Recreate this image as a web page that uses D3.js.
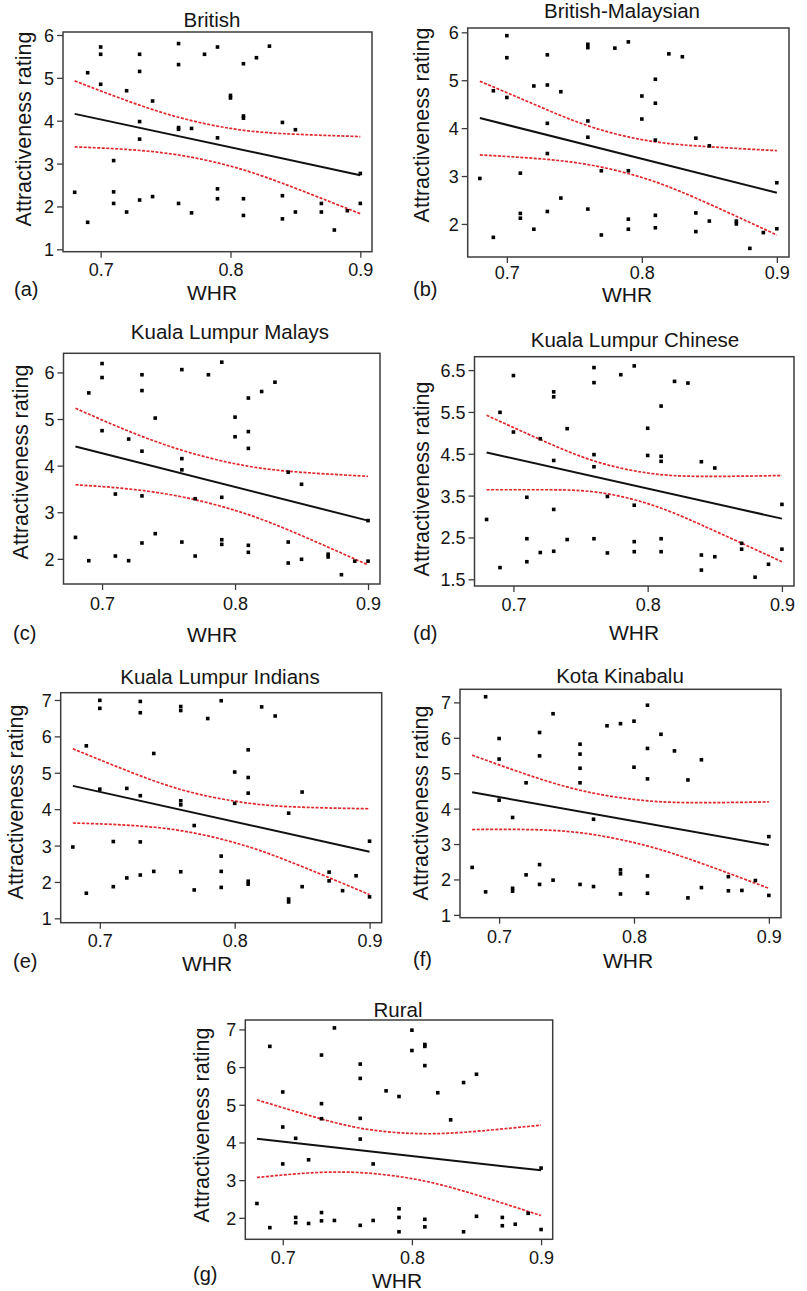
<!DOCTYPE html>
<html>
<head>
<meta charset="utf-8">
<script src="https://cdn.jsdelivr.net/npm/d3@7"></script>
<style>
body { margin: 0; background: #fff; }
svg { display: block; font-family: "Liberation Sans", Arial, Helvetica, sans-serif; }
</style>
</head>
<body>
<div id="chart"></div>
<script>
// Page size
var w = 807;
var h = 1291;

// Shared x values
var xDomain = [0.671, 0.909];
var xTicks = [0.7, 0.8, 0.9];
var fitWHR = [0.68, 0.90];
var bandWHR = [0.68, 0.72, 0.76, 0.80, 0.84, 0.90];

// (a) British
var britishWHR = [0.68,0.69,0.69,0.70,0.70,0.70,0.71,0.71,0.71,0.72,0.72,0.73,0.73,0.73,0.73,0.73,0.74,0.74,0.76,0.76,0.76,0.76,0.76,0.77,0.77,0.78,0.79,0.79,0.79,0.79,0.80,0.80,0.81,0.81,0.81,0.81,0.81,0.82,0.83,0.84,0.84,0.84,0.85,0.85,0.87,0.87,0.88,0.89,0.90,0.90];
var britishRating = [2.33,5.12,1.63,5.72,5.55,4.85,3.07,2.34,2.07,4.70,1.87,5.55,5.15,3.98,3.57,2.15,4.46,2.23,5.80,5.31,3.84,3.80,2.07,3.82,1.85,5.55,5.72,3.60,2.41,2.18,4.59,4.53,5.33,4.11,4.06,2.18,1.79,5.47,5.74,3.96,2.25,1.71,3.79,1.87,2.07,1.87,1.45,1.90,2.77,2.07];
var britishFit = [4.16, 2.73];
var britishUpper = [4.93, 4.47, 4.08, 3.82, 3.70, 3.63];
var britishLower = [3.39, 3.33, 3.20, 2.94, 2.54, 1.83];
var britishTicks = [1, 2, 3, 4, 5, 6];

// (b) British-Malaysian
var brMalWHR = [0.68,0.69,0.69,0.70,0.70,0.70,0.71,0.71,0.71,0.72,0.72,0.73,0.73,0.73,0.73,0.73,0.74,0.74,0.76,0.76,0.76,0.76,0.76,0.77,0.77,0.78,0.79,0.79,0.79,0.79,0.80,0.80,0.81,0.81,0.81,0.81,0.81,0.82,0.83,0.84,0.84,0.84,0.85,0.85,0.87,0.87,0.88,0.89,0.90,0.90];
var brMalRating = [2.95,4.78,1.72,5.93,5.47,4.64,3.06,2.22,2.12,4.88,1.89,5.53,4.90,4.10,3.47,2.26,4.76,2.54,5.75,5.68,4.15,3.81,2.31,3.11,1.77,5.67,5.80,3.11,2.10,1.89,4.67,4.19,5.02,4.52,3.75,2.18,1.92,5.55,5.49,3.79,2.23,1.84,3.63,2.06,2.06,2.00,1.49,1.82,2.86,1.90];
var brMalFit = [4.21, 2.65];
var brMalUpper = [4.98, 4.50, 4.05, 3.76, 3.63, 3.53];
var brMalLower = [3.44, 3.37, 3.24, 2.97, 2.54, 1.77];
var brMalTicks = [2, 3, 4, 5, 6];

// (c) Kuala Lumpur Malays
var klMalaysWHR = [0.68,0.69,0.69,0.70,0.70,0.70,0.71,0.71,0.72,0.72,0.73,0.73,0.73,0.73,0.73,0.74,0.74,0.76,0.76,0.76,0.76,0.77,0.77,0.78,0.79,0.79,0.79,0.79,0.80,0.80,0.81,0.81,0.81,0.81,0.81,0.82,0.83,0.84,0.84,0.84,0.85,0.85,0.87,0.87,0.88,0.89,0.90,0.90];
var klMalaysRating = [2.46,5.56,1.96,6.19,5.89,4.75,3.39,2.06,4.57,1.96,5.95,5.61,4.31,3.35,2.34,5.02,2.54,6.06,4.15,3.91,2.36,3.29,2.06,5.95,6.22,3.32,2.41,2.31,5.04,4.62,5.45,4.73,4.37,2.29,2.14,5.59,5.79,3.86,2.36,1.91,3.60,1.99,2.10,2.04,1.66,1.95,2.82,1.95];
var klMalaysFit = [4.41, 2.82];
var klMalaysUpper = [5.23, 4.74, 4.33, 4.04, 3.88, 3.77];
var klMalaysLower = [3.59, 3.50, 3.33, 3.04, 2.62, 1.87];
var klMalaysTicks = [2, 3, 4, 5, 6];

// (d) Kuala Lumpur Chinese
var klChineseWHR = [0.68,0.69,0.69,0.70,0.70,0.71,0.71,0.71,0.72,0.72,0.73,0.73,0.73,0.73,0.73,0.74,0.74,0.76,0.76,0.76,0.76,0.76,0.77,0.77,0.78,0.79,0.79,0.79,0.79,0.80,0.80,0.81,0.81,0.81,0.81,0.81,0.82,0.83,0.84,0.84,0.84,0.85,0.85,0.87,0.87,0.88,0.89,0.90,0.90];
var klChineseRating = [2.93,5.49,1.78,6.37,5.02,3.46,2.47,1.92,4.86,2.14,5.98,5.86,4.34,3.17,2.17,5.10,2.45,6.56,6.20,4.48,4.19,2.47,3.48,2.13,6.39,6.60,3.27,2.40,2.16,5.11,4.46,5.64,4.44,4.32,2.47,2.16,6.23,6.19,4.31,2.08,1.72,4.16,2.04,2.36,2.22,1.55,1.86,3.29,2.22];
var klChineseFit = [4.53, 2.95];
var klChineseUpper = [5.42, 4.84, 4.33, 4.04, 3.96, 3.98];
var klChineseLower = [3.64, 3.64, 3.59, 3.31, 2.80, 1.92];
var klChineseTicks = [1.5, 2.5, 3.5, 4.5, 5.5, 6.5];

// (e) Kuala Lumpur Indians
var klIndiansWHR = [0.68,0.69,0.69,0.70,0.70,0.70,0.71,0.71,0.72,0.72,0.73,0.73,0.73,0.73,0.73,0.74,0.74,0.76,0.76,0.76,0.76,0.76,0.77,0.77,0.78,0.79,0.79,0.79,0.79,0.80,0.80,0.81,0.81,0.81,0.81,0.81,0.82,0.83,0.84,0.84,0.84,0.85,0.85,0.87,0.87,0.88,0.89,0.90,0.90];
var klIndiansRating = [2.96,5.74,1.69,6.99,6.77,4.55,3.11,1.87,4.57,2.11,6.96,6.65,4.37,3.10,2.19,5.53,2.29,6.82,6.71,4.23,4.12,2.28,3.55,1.78,6.49,6.98,2.71,2.29,1.85,5.02,4.16,5.63,4.87,4.44,2.02,1.94,6.81,6.56,3.89,1.53,1.45,4.47,1.87,2.27,2.03,1.76,2.17,3.12,1.59];
var klIndiansFit = [4.64, 2.83];
var klIndiansUpper = [5.66, 5.06, 4.54, 4.22, 4.07, 4.01];
var klIndiansLower = [3.62, 3.56, 3.41, 3.08, 2.57, 1.65];
var klIndiansTicks = [1, 2, 3, 4, 5, 6, 7];

// (f) Kota Kinabalu
var kotaWHR = [0.68,0.69,0.69,0.70,0.70,0.70,0.71,0.71,0.71,0.72,0.72,0.73,0.73,0.73,0.73,0.74,0.74,0.76,0.76,0.76,0.76,0.76,0.77,0.77,0.78,0.79,0.79,0.79,0.79,0.80,0.80,0.81,0.81,0.81,0.81,0.81,0.82,0.83,0.84,0.84,0.85,0.85,0.87,0.87,0.88,0.89,0.90,0.90];
var kotaRating = [2.34,7.16,1.65,5.98,5.40,4.24,3.75,1.75,1.67,4.73,2.13,6.15,5.49,2.42,1.86,6.68,1.98,5.82,5.54,5.14,4.73,1.86,3.70,1.80,6.34,6.40,2.27,2.16,1.59,6.47,5.17,6.92,5.70,4.84,2.10,1.61,6.10,5.63,4.81,1.48,5.38,1.77,2.08,1.68,1.69,1.97,3.21,1.55];
var kotaFit = [4.46, 2.97];
var kotaUpper = [5.51, 4.97, 4.52, 4.26, 4.17, 4.19];
var kotaLower = [3.41, 3.41, 3.32, 3.04, 2.59, 1.75];
var kotaTicks = [1, 2, 3, 4, 5, 6, 7];

// (g) Rural
var ruralWHR = [0.68,0.69,0.69,0.70,0.70,0.70,0.71,0.71,0.71,0.72,0.72,0.73,0.73,0.73,0.73,0.73,0.74,0.74,0.76,0.76,0.76,0.76,0.76,0.77,0.77,0.78,0.79,0.79,0.79,0.79,0.80,0.80,0.81,0.81,0.81,0.81,0.81,0.82,0.83,0.84,0.84,0.85,0.85,0.87,0.87,0.88,0.89,0.90,0.90];
var ruralRating = [2.38,6.55,1.74,5.34,4.41,3.43,4.11,2.01,1.87,3.54,1.85,6.32,5.03,4.63,2.14,1.92,7.04,1.93,6.08,5.70,4.64,4.09,1.80,3.43,1.93,5.37,5.22,2.24,2.01,1.63,6.98,6.44,6.60,6.55,6.04,1.96,1.76,5.32,4.60,5.59,1.63,5.81,2.04,2.01,1.79,1.83,2.12,3.32,1.69];
var ruralFit = [4.10, 3.26];
var ruralUpper = [5.13, 4.72, 4.38, 4.24, 4.27, 4.46];
var ruralLower = [3.07, 3.19, 3.20, 3.04, 2.71, 2.06];
var ruralTicks = [2, 3, 4, 5, 6, 7];

// Panel layout: box = [left, top, right, bottom]
var panels = [
    { tag: "(a)", title: "British", whr: britishWHR, rating: britishRating, fit: britishFit,
      upper: britishUpper, lower: britishLower, yTicks: britishTicks, fmt: "d",
      box: [63, 32, 372, 251.7], yDomain: [0.944, 6.07],
      titlePos: [212, 27], xLabPos: [212, 300], tagPos: [14, 296], yLabPos: [31, 129], tickBase: 276 },
    { tag: "(b)", title: "British-Malaysian", whr: brMalWHR, rating: brMalRating, fit: brMalFit,
      upper: brMalUpper, lower: brMalLower, yTicks: brMalTicks, fmt: "d",
      box: [467.7, 28, 789, 257], yDomain: [1.31, 6.09],
      titlePos: [622, 18], xLabPos: [627, 302], tagPos: [413, 296], yLabPos: [429, 125], tickBase: 279 },
    { tag: "(c)", title: "Kuala Lumpur Malays", whr: klMalaysWHR, rating: klMalaysRating, fit: klMalaysFit,
      upper: klMalaysUpper, lower: klMalaysLower, yTicks: klMalaysTicks, fmt: "d",
      box: [63.5, 353.3, 380, 584], yDomain: [1.46, 6.41],
      titlePos: [230, 339], xLabPos: [212, 642], tagPos: [13, 640], yLabPos: [28, 462], tickBase: 610 },
    { tag: "(d)", title: "Kuala Lumpur Chinese", whr: klChineseWHR, rating: klChineseRating, fit: klChineseFit,
      upper: klChineseUpper, lower: klChineseLower, yTicks: klChineseTicks, fmt: ".1f",
      box: [474.5, 356.7, 794, 586], yDomain: [1.34, 6.82],
      titlePos: [635, 347], xLabPos: [634, 640], tagPos: [413, 640], yLabPos: [429, 479], tickBase: 611 },
    { tag: "(e)", title: "Kuala Lumpur Indians", whr: klIndiansWHR, rating: klIndiansRating, fit: klIndiansFit,
      upper: klIndiansUpper, lower: klIndiansLower, yTicks: klIndiansTicks, fmt: "d",
      box: [60.7, 692.7, 381.7, 922.7], yDomain: [0.88, 7.2],
      titlePos: [220, 684], xLabPos: [207, 971], tagPos: [13, 968], yLabPos: [23, 802], tickBase: 947 },
    { tag: "(f)", title: "Kota Kinabalu", whr: kotaWHR, rating: kotaRating, fit: kotaFit,
      upper: kotaUpper, lower: kotaLower, yTicks: kotaTicks, fmt: "d",
      box: [460, 689.3, 781, 917.7], yDomain: [0.92, 7.37],
      titlePos: [620, 683], xLabPos: [628, 968], tagPos: [413, 966], yLabPos: [428, 803], tickBase: 943 },
    { tag: "(g)", title: "Rural", whr: ruralWHR, rating: ruralRating, fit: ruralFit,
      upper: ruralUpper, lower: ruralLower, yTicks: ruralTicks, fmt: "d",
      box: [245.3, 1020, 552.7, 1239.3], yDomain: [1.43, 7.25],
      titlePos: [398, 1017], xLabPos: [397, 1288], tagPos: [193, 1281], yLabPos: [209, 1125], tickBase: 1264 }
];

var svg = d3.select("#chart")
    .append("svg")
    .attr("width", w)
    .attr("height", h);

var textColor = "#151515";
var frameColor = "#3c3c3c";

panels.forEach(function(p) {
    var xScale = d3.scaleLinear().domain(xDomain).range([p.box[0], p.box[2]]);
    var yScale = d3.scaleLinear().domain(p.yDomain).range([p.box[3], p.box[1]]);
    var g = svg.append("g");

    // y axis ticks
    var yAxis = g.append("g")
        .attr("transform", "translate(" + p.box[0] + ",0)")
        .call(d3.axisLeft(yScale)
            .tickValues(p.yTicks)
            .tickFormat(d3.format(p.fmt))
            .tickSize(6)
            .tickSizeOuter(0));
    yAxis.select(".domain").remove();
    yAxis.selectAll("line").attr("stroke", frameColor).attr("stroke-width", 1.3);
    yAxis.selectAll("text")
        .attr("x", -9)
        .attr("dy", "0.36em")
        .attr("fill", textColor)
        .style("font-size", "18px")
        .style("font-family", "'Liberation Sans', Arial, sans-serif");

    // x axis ticks
    var xAxis = g.append("g")
        .attr("transform", "translate(0," + p.box[3] + ")")
        .call(d3.axisBottom(xScale)
            .tickValues(xTicks)
            .tickFormat(d3.format(".1f"))
            .tickSize(6)
            .tickSizeOuter(0));
    xAxis.select(".domain").remove();
    xAxis.selectAll("line").attr("stroke", frameColor).attr("stroke-width", 1.3);
    xAxis.selectAll("text")
        .attr("y", p.tickBase - p.box[3])
        .attr("dy", 0)
        .attr("fill", textColor)
        .style("font-size", "18px")
        .style("font-family", "'Liberation Sans', Arial, sans-serif");

    // frame
    g.append("rect")
        .attr("x", p.box[0])
        .attr("y", p.box[1])
        .attr("width", p.box[2] - p.box[0])
        .attr("height", p.box[3] - p.box[1])
        .attr("fill", "none")
        .attr("stroke", frameColor)
        .attr("stroke-width", 1.5);

    // confidence bands
    var line = d3.line()
        .x(function(d) { return xScale(d[0]); })
        .y(function(d) { return yScale(d[1]); })
        .curve(d3.curveNatural);

    [p.upper, p.lower].forEach(function(band) {
        g.append("path")
            .datum(d3.zip(bandWHR, band))
            .attr("d", line)
            .attr("fill", "none")
            .attr("stroke", "#e3262b")
            .attr("stroke-width", 1.7)
            .attr("stroke-dasharray", "3,1.5");
    });

    // regression line
    g.append("path")
        .datum(d3.zip(fitWHR, p.fit))
        .attr("d", d3.line()
            .x(function(d) { return xScale(d[0]); })
            .y(function(d) { return yScale(d[1]); }))
        .attr("fill", "none")
        .attr("stroke", "#111")
        .attr("stroke-width", 2);

    // points
    g.selectAll("rect.pt")
        .data(d3.zip(p.whr, p.rating))
        .enter()
        .append("rect")
        .attr("class", "pt")
        .attr("x", function(d) { return xScale(d[0]) - 1.8; })
        .attr("y", function(d) { return yScale(d[1]) - 1.8; })
        .attr("width", 3.6)
        .attr("height", 3.6)
        .attr("fill", "#000");

    // title
    g.append("text")
        .attr("x", p.titlePos[0])
        .attr("y", p.titlePos[1])
        .attr("text-anchor", "middle")
        .attr("fill", textColor)
        .style("font-size", "20.5px")
        .text(p.title);

    // x label
    g.append("text")
        .attr("x", p.xLabPos[0])
        .attr("y", p.xLabPos[1])
        .attr("text-anchor", "middle")
        .attr("fill", textColor)
        .style("font-size", "21px")
        .text("WHR");

    // y label
    g.append("text")
        .attr("transform", "translate(" + p.yLabPos[0] + "," + p.yLabPos[1] + ") rotate(-90)")
        .attr("text-anchor", "middle")
        .attr("fill", textColor)
        .style("font-size", "21.5px")
        .text("Attractiveness rating");

    // panel tag
    g.append("text")
        .attr("x", p.tagPos[0])
        .attr("y", p.tagPos[1])
        .attr("fill", textColor)
        .style("font-size", "20px")
        .text(p.tag);
});
</script>
</body>
</html>
